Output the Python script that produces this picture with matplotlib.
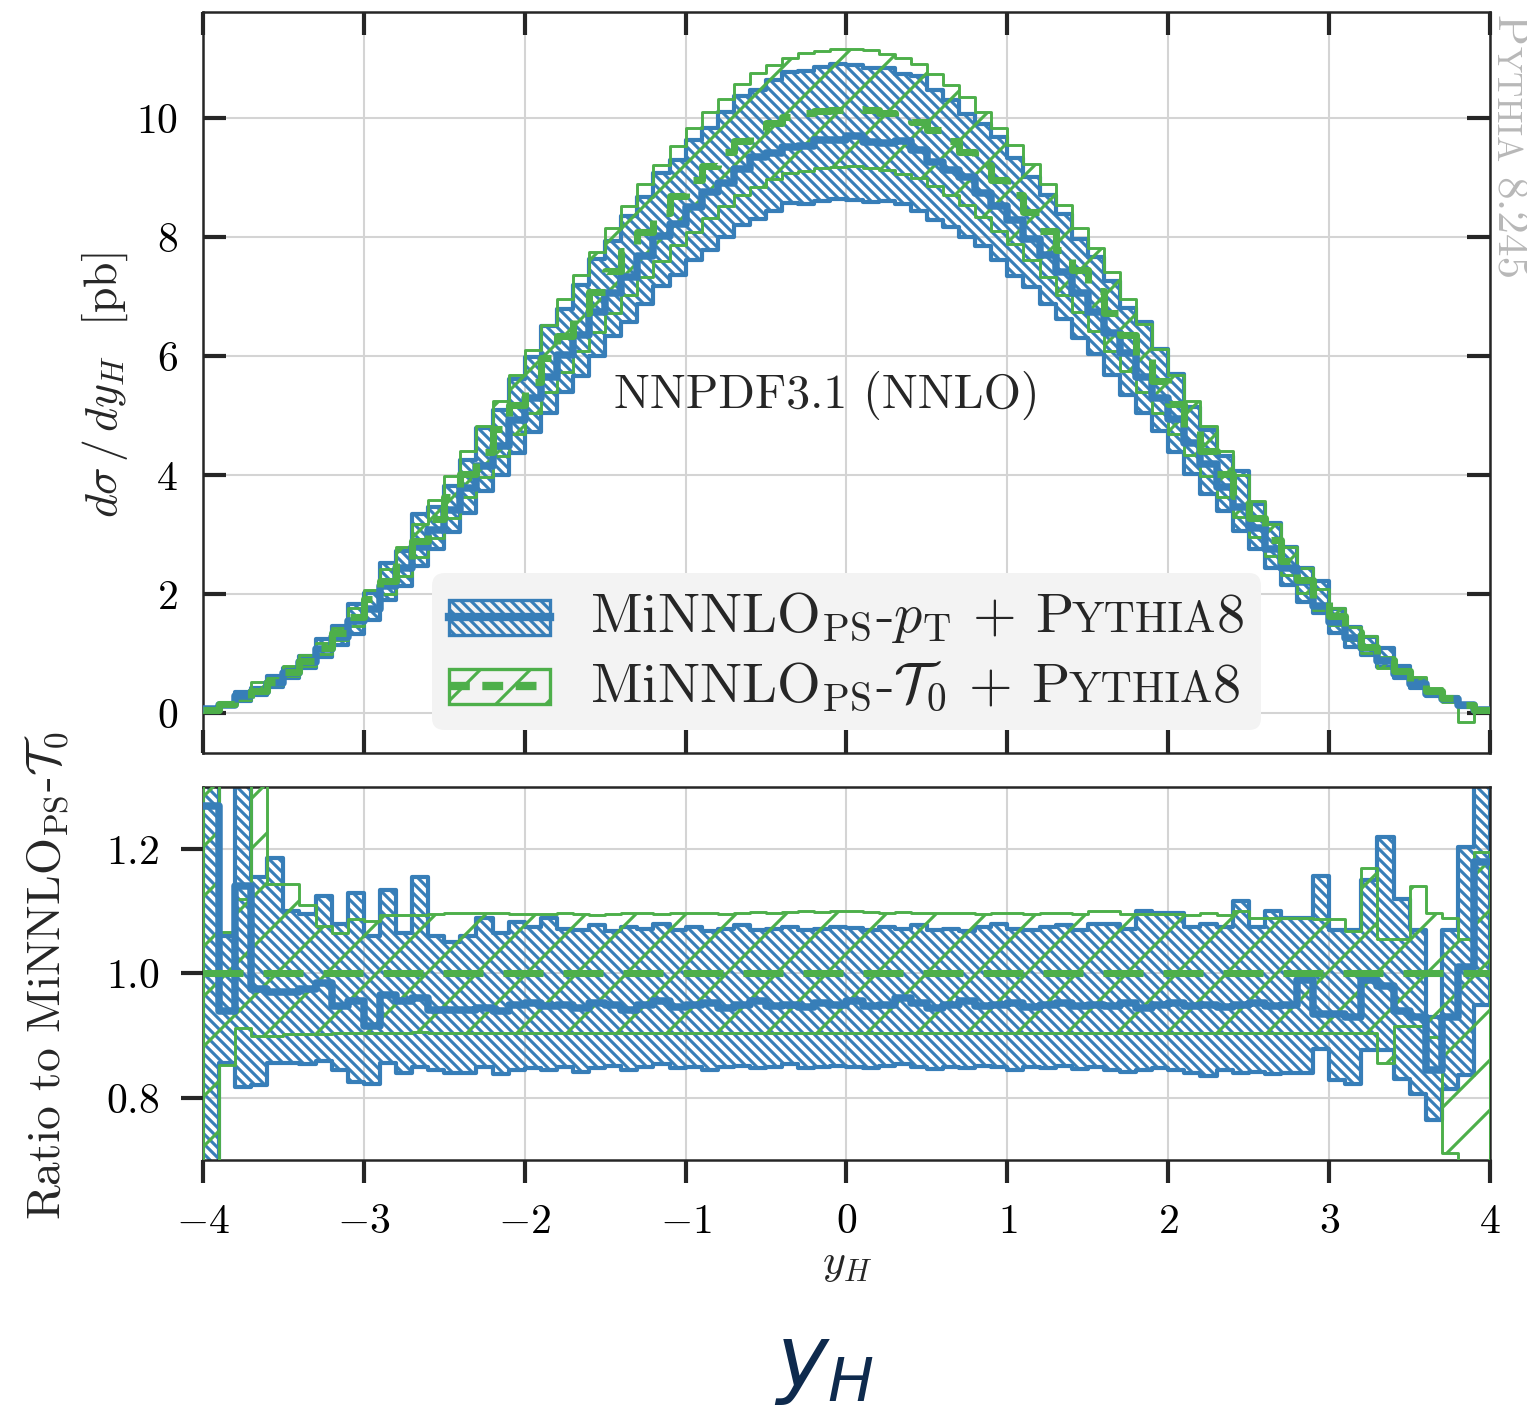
import numpy as np
import matplotlib.pyplot as plt
from matplotlib.lines import Line2D
from matplotlib.patches import Rectangle
from matplotlib.offsetbox import AnchoredOffsetbox, DrawingArea, HPacker, TextArea, VPacker

# d sigma / d y_H [pb] of MiNNLO_PS-T0 (central), 80 bins of width 0.1 on [-4, 4]
green_c = [
    0.06, 0.15, 0.25, 0.37, 0.52, 0.69, 0.88, 1.10, 1.35, 1.62,
    1.91, 2.22, 2.55, 2.90, 3.26, 3.63, 4.01, 4.39, 4.78, 5.18,
    5.57, 5.96, 6.34, 6.72, 7.08, 7.43, 7.77, 8.09, 8.40, 8.69,
    8.95, 9.20, 9.42, 9.62, 9.78, 9.92, 10.02, 10.08, 10.12, 10.14,
    10.15, 10.13, 10.09, 10.01, 9.93, 9.79, 9.61, 9.43, 9.21, 8.96,
    8.70, 8.42, 8.10, 7.78, 7.44, 7.10, 6.73, 6.35, 5.97, 5.58,
    5.19, 4.79, 4.40, 4.02, 3.64, 3.27, 2.91, 2.56, 2.23, 1.92,
    1.63, 1.36, 1.11, 0.89, 0.70, 0.53, 0.38, 0.26, 0.13, 0.05]

# everything else as ratio to the T0 central value
green_up = [
    1.40, 1.066, 1.12, 1.40, 1.144, 1.144, 1.11, 1.077, 1.065, 1.087,
    1.085, 1.094, 1.094, 1.094, 1.096, 1.097, 1.097, 1.098, 1.098, 1.096,
    1.096, 1.095, 1.097, 1.096, 1.094, 1.096, 1.097, 1.098, 1.096, 1.097,
    1.098, 1.097, 1.096, 1.098, 1.099, 1.098, 1.099, 1.10, 1.099, 1.10,
    1.10, 1.099, 1.098, 1.099, 1.098, 1.097, 1.098, 1.097, 1.096, 1.098,
    1.097, 1.096, 1.097, 1.098, 1.096, 1.10, 1.10, 1.095, 1.095, 1.095,
    1.095, 1.094, 1.097, 1.094, 1.10, 1.09, 1.09, 1.09, 1.09, 1.087,
    1.087, 1.068, 1.17, 1.055, 1.055, 1.14, 1.097, 1.09, 1.055, 1.195]
green_dn = [
    0.30, 0.853, 0.912, 0.90, 0.90, 0.902, 0.902, 0.903, 0.905, 0.905,
    0.905, 0.905, 0.905, 0.906, 0.905, 0.905, 0.905, 0.904, 0.905, 0.905,
    0.905, 0.905, 0.904, 0.905, 0.905, 0.905, 0.904, 0.905, 0.905, 0.905,
    0.904, 0.905, 0.905, 0.905, 0.904, 0.905, 0.905, 0.904, 0.905, 0.905,
    0.905, 0.904, 0.905, 0.905, 0.905, 0.904, 0.905, 0.905, 0.905, 0.904,
    0.905, 0.905, 0.905, 0.904, 0.905, 0.905, 0.905, 0.905, 0.905, 0.904,
    0.905, 0.905, 0.905, 0.905, 0.905, 0.905, 0.905, 0.905, 0.905, 0.905,
    0.905, 0.905, 0.905, 0.856, 0.915, 0.915, 0.898, 0.712, -1.2, 0.30]
blue_c = [
    1.27, 0.94, 1.14, 0.975, 0.97, 0.97, 0.975, 0.985, 0.947, 0.955,
    0.915, 0.965, 0.955, 0.96, 0.942, 0.942, 0.942, 0.945, 0.94, 0.95,
    0.952, 0.948, 0.95, 0.945, 0.953, 0.95, 0.942, 0.95, 0.955, 0.946,
    0.95, 0.952, 0.945, 0.95, 0.955, 0.948, 0.95, 0.946, 0.952, 0.95,
    0.955, 0.948, 0.95, 0.96, 0.952, 0.945, 0.95, 0.955, 0.948, 0.95,
    0.952, 0.946, 0.95, 0.953, 0.948, 0.95, 0.948, 0.952, 0.945, 0.95,
    0.952, 0.948, 0.95, 0.946, 0.95, 0.953, 0.948, 0.95, 0.99, 0.935,
    0.935, 0.93, 0.99, 0.98, 0.94, 0.93, 0.845, 0.93, 1.01, 1.18]
blue_up = [
    1.40, 1.06, 1.40, 1.155, 1.185, 1.10, 1.095, 1.125, 1.08, 1.13,
    1.06, 1.135, 1.065, 1.155, 1.06, 1.05, 1.06, 1.09, 1.065, 1.083,
    1.075, 1.09, 1.072, 1.07, 1.078, 1.068, 1.075, 1.072, 1.08, 1.07,
    1.075, 1.068, 1.072, 1.078, 1.07, 1.072, 1.075, 1.07, 1.072, 1.075,
    1.073, 1.07, 1.075, 1.072, 1.078, 1.07, 1.072, 1.068, 1.075, 1.08,
    1.072, 1.07, 1.075, 1.078, 1.07, 1.08, 1.08, 1.071, 1.10, 1.097,
    1.097, 1.075, 1.08, 1.075, 1.117, 1.075, 1.10, 1.09, 1.09, 1.157,
    1.07, 1.07, 1.15, 1.22, 1.12, 1.07, 0.93, 1.07, 1.204, 1.40]
blue_dn = [
    0.30, 0.856, 0.817, 0.82, 0.856, 0.856, 0.855, 0.86, 0.845, 0.825,
    0.822, 0.856, 0.84, 0.85, 0.845, 0.84, 0.84, 0.85, 0.838, 0.845,
    0.848, 0.845, 0.85, 0.842, 0.848, 0.852, 0.845, 0.85, 0.855, 0.848,
    0.85, 0.845, 0.85, 0.852, 0.848, 0.85, 0.855, 0.848, 0.85, 0.852,
    0.85, 0.848, 0.852, 0.855, 0.85, 0.846, 0.85, 0.848, 0.852, 0.85,
    0.845, 0.85, 0.848, 0.852, 0.846, 0.85, 0.845, 0.842, 0.845, 0.848,
    0.845, 0.84, 0.835, 0.845, 0.84, 0.842, 0.838, 0.84, 0.84, 0.878,
    0.828, 0.822, 0.877, 0.877, 0.831, 0.806, 0.765, 0.815, 0.836, 0.95]

y_lo, y_hi = -4.0, 4.0
top_yticks = [0, 2, 4, 6, 8, 10]
bot_yticks = [0.8, 1.0, 1.2]
xticks = [-4, -3, -2, -1, 0, 1, 2, 3, 4]

BLUE = '#377eb8'
GREEN = '#4daf4a'
INK = '#262626'
BLUE_HATCH = '\\' * 10
GREEN_HATCH = '//'
DASH = (0, (9.6, 4.8))

plt.rcParams.update({
    'font.family': 'serif',
    'font.serif': ['cmr10'],
    'mathtext.fontset': 'cm',
    'axes.formatter.use_mathtext': True,
    'hatch.linewidth': 0.75,
    'lines.scale_dashes': False,
    'text.color': INK,
})

edges = np.linspace(y_lo, y_hi, len(green_c) + 1)


def stepped(v):
    v = np.asarray(v, float)
    return np.append(v, v[-1])


def draw_set(ax, c, lo, hi, color, hatch, band_lw, line_lw, ls, z):
    ax.fill_between(edges, stepped(lo), stepped(hi), step='post', facecolor='none',
                    edgecolor=color, hatch=hatch, linewidth=band_lw, zorder=z)
    ax.step(edges, stepped(c), where='post', color=color, lw=line_lw, ls=ls, zorder=z + 2)


g = np.array(green_c)
fig = plt.figure(figsize=(1527 / 300, 1408 / 300), dpi=300)
ax_top = fig.add_axes([0.1329, 0.4652, 0.8429, 0.5263])
ax_bot = fig.add_axes([0.1329, 0.1761, 0.8429, 0.2650])

# top panel: absolute distributions
draw_set(ax_top, g * blue_c, g * blue_dn, g * blue_up, BLUE, BLUE_HATCH, 1.0, 1.8, '-', 2)
draw_set(ax_top, g, g * green_dn, g * green_up, GREEN, GREEN_HATCH, 0.7, 1.7, DASH, 3)
# bottom panel: ratio to T0
draw_set(ax_bot, blue_c, blue_dn, blue_up, BLUE, BLUE_HATCH, 1.0, 1.8, '-', 2)
draw_set(ax_bot, g / g, green_dn, green_up, GREEN, GREEN_HATCH, 0.7, 1.7, DASH, 3)

for ax in (ax_top, ax_bot):
    ax.set_xlim(y_lo, y_hi)
    ax.set_xticks(xticks)
    ax.grid(True, color='#d4d4d4', lw=0.5)
    ax.set_axisbelow(True)
    for sp in ax.spines.values():
        sp.set_color(INK)
        sp.set_linewidth(0.6)

ax_top.set_ylim(-0.67, 11.78)
ax_top.set_yticks(top_yticks)
ax_top.tick_params(direction='in', length=5.6, width=1.0, color=INK, top=True, right=True,
                   labelbottom=False, labelsize=10, pad=6)

ax_bot.set_ylim(0.7, 1.3)
ax_bot.set_yticks(bot_yticks)
ax_bot.tick_params(direction='out', length=5.4, width=1.0, color=INK, labelsize=10, pad=5)

fig.text(105 / 1527, 1 - 385 / 1408, r'$d\sigma\,/\,dy_H$  [pb]', rotation=90,
         ha='center', va='center', fontsize=11)
fig.text(47 / 1527, 1 - 975 / 1408, r'Ratio to MiNNLO$_{\rm PS}$-$\mathcal{T}_0$', rotation=90,
         ha='center', va='center', fontsize=11.4)
fig.text(847 / 1527, 1 - 1264 / 1408, r'$y_H$', ha='center', va='center', fontsize=10.5)
ax_top.text(-0.12, 5.34, 'NNPDF3.1 (NNLO)', ha='center', va='center', fontsize=11.5)

# big slide label
fig.text(0.540, 0.0149, r'$y_H$', ha='center', va='baseline', fontsize=21,
         color='#0e2a4d', math_fontfamily='dejavusans')


# legend with small-caps Pythia
def legend_handle(color, hatch, ls, lw):
    w, h = 24.2, 8.4
    da = DrawingArea(w, h, 0, 0)
    da.add_artist(Rectangle((0, 0), w, h, facecolor='none', edgecolor=color, hatch=hatch, lw=0.8))
    da.add_artist(Line2D([0, w], [h / 2, h / 2], color=color, lw=lw, ls=ls))
    return da


def legend_label(prefix):
    big = dict(size=13.5, color=INK)
    small = dict(size=10.4, color=INK)
    parts = [TextArea(prefix, textprops=big), TextArea('YTHIA', textprops=small),
             TextArea('8', textprops=big)]
    return HPacker(children=parts, align='baseline', pad=0, sep=0)


rows = [
    HPacker(children=[legend_handle(BLUE, BLUE_HATCH, '-', 2.0),
                      legend_label(r'MiNNLO$_{\rm PS}$-$p_{\rm T}$ + P')],
            align='center', pad=0, sep=9.6),
    HPacker(children=[legend_handle(GREEN, GREEN_HATCH, (0, (5, 3)), 2.0),
                      legend_label(r'MiNNLO$_{\rm PS}$-$\mathcal{T}_0$ + P')],
            align='center', pad=0, sep=9.6),
]
box = VPacker(children=rows, align='left', pad=0, sep=3.5)
leg = AnchoredOffsetbox(loc='lower left', child=box, pad=0.4, borderpad=0, frameon=True,
                        bbox_to_anchor=(0.178, 0.031), bbox_transform=ax_top.transAxes)
leg.patch.set_facecolor('#f3f3f3')
leg.patch.set_edgecolor('none')
leg.patch.set_boxstyle('round,pad=0,rounding_size=0.3')
leg.set_zorder(10)
ax_top.add_artist(leg)

# vertical "Pythia 8.245" tag with small caps
renderer = fig.canvas.get_renderer()
x_tag, y_tag = 1497 / 1527, 1 - 15 / 1408
for s, size, gap in [('P', 10.9, 0), ('YTHIA', 8.4, 0), ('8.245', 10.9, 3.5)]:
    y_tag -= gap * 300 / 72 / fig.bbox.height
    t = fig.text(x_tag, y_tag, s, rotation=-90, rotation_mode='anchor', ha='left',
                 va='baseline', fontsize=size, color='#b8b8b8')
    y_tag -= t.get_window_extent(renderer).height / fig.bbox.height

fig.savefig('out.png', dpi=300)
